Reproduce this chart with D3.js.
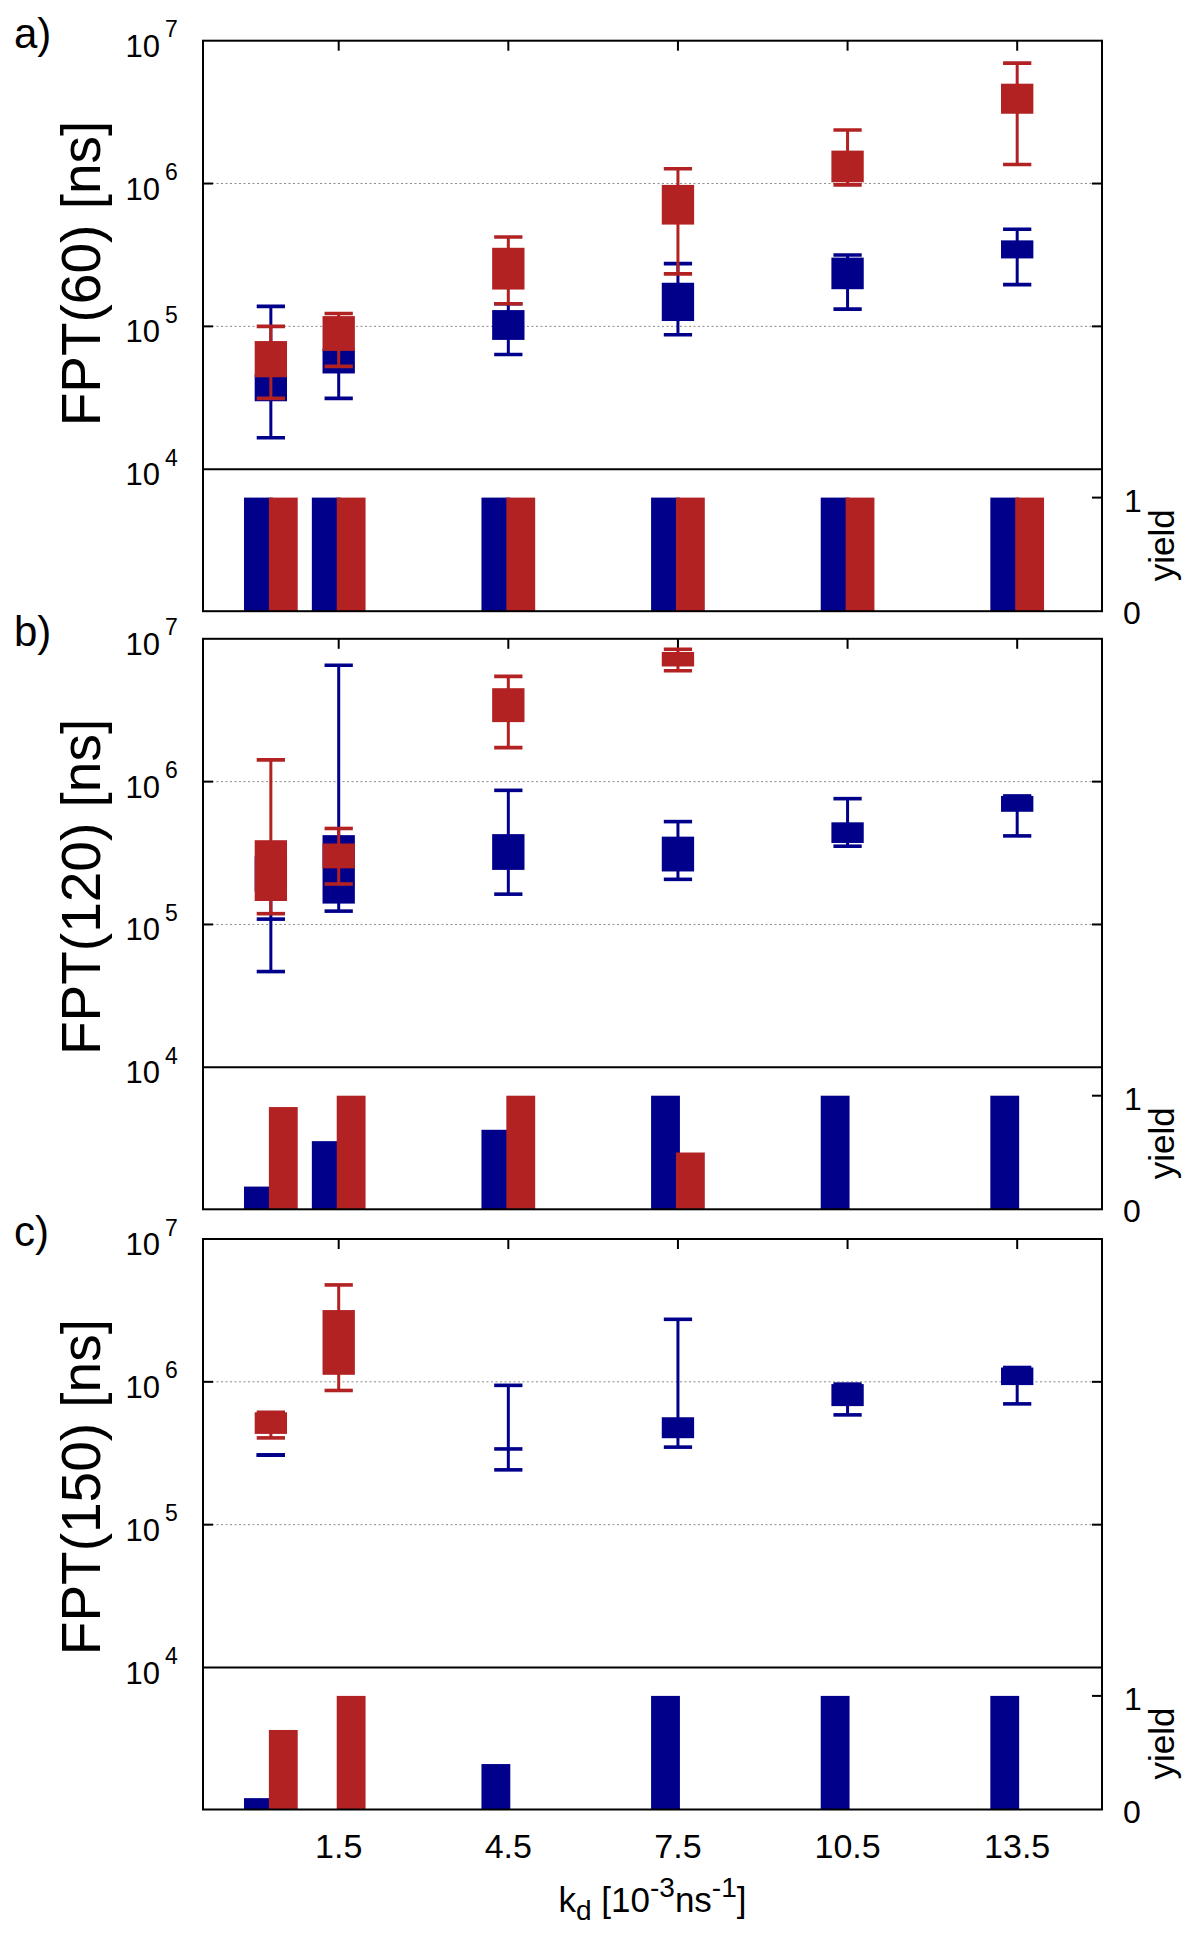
<!DOCTYPE html>
<html><head><meta charset="utf-8">
<script src="https://cdn.jsdelivr.net/npm/d3@7"></script>
<style>
body{margin:0;background:#fff}
svg{display:block}
text{font-family:"Liberation Sans",Arial,Helvetica,sans-serif;fill:#000}
</style>
</head><body>
<svg id="chart" width="1200" height="1937"></svg>
<script>
// ---------------- DATA ----------------
const kd = [0.3, 1.5, 4.5, 7.5, 10.5, 13.5];
const xTickValues = [1.5, 4.5, 7.5, 10.5, 13.5];
const xTickLabels = ["1.5", "4.5", "7.5", "10.5", "13.5"];
const yTickValues = [1e4, 1e5, 1e6, 1e7];
const yTickExponents = ["4", "5", "6", "7"];
const gridValues = [1e5, 1e6];
const panelLabels = ["a)", "b)", "c)"];
const yTitles = ["FPT(60) [ns]", "FPT(120) [ns]", "FPT(150) [ns]"];

// panel a (FPT 60)
const aBlueLo = [1.66e4, 3.13e4, 6.35e4, 8.73e4, 1.32e5, 1.96e5];
const aBlueQ1 = [2.99e4, 4.68e4, 8.04e4, 1.09e5, 1.82e5, 2.99e5];
const aBlueQ3 = [4.6e4, 7.0e4, 1.30e5, 2.02e5, 3.03e5, 4.0e5];
const aBlueHi = [1.38e5, 8.0e4, 1.44e5, 2.75e5, 3.16e5, 4.79e5];
const aRedLo = [3.13e4, 5.25e4, 1.44e5, 2.33e5, 9.78e5, 1.36e6];
const aRedQ1 = [4.4e4, 6.73e4, 1.81e5, 5.16e5, 1.02e6, 3.08e6];
const aRedQ3 = [7.89e4, 1.18e5, 3.55e5, 9.78e5, 1.70e6, 5.0e6];
const aRedHi = [1.0e5, 1.23e5, 4.22e5, 1.27e6, 2.37e6, 6.97e6];
const aBlueYield = [1, 1, 1, 1, 1, 1];
const aRedYield = [1, 1, 1, 1, 1, 1];

// panel b (FPT 120)
const bBlueLo = [4.68e4, 1.24e5, 1.63e5, 2.07e5, 3.53e5, 4.17e5];
const bBlueQ1 = [1.7e5, 1.40e5, 2.41e5, 2.35e5, 3.72e5, 6.15e5];
const bBlueQ3 = [3.0e5, 4.22e5, 4.29e5, 4.12e5, 5.19e5, 7.94e5];
const bBlueHi = [1.09e5, 6.53e6, 8.69e5, 5.25e5, 7.6e5, 7.94e5];
const bRedLo = [1.19e5, 1.92e5, 1.73e6, 5.98e6, null, null];
const bRedQ1 = [1.46e5, 2.47e5, 2.61e6, 6.4e6, null, null];
const bRedQ3 = [3.89e5, 3.69e5, 4.51e6, 8.09e6, null, null];
const bRedHi = [1.42e6, 4.70e5, 5.46e6, 8.44e6, null, null];
const bBlueYield = [0.2, 0.6, 0.7, 1, 1, 1];
const bRedYield = [0.9, 1, 1, 0.5, 0, 0];

// panel c (FPT 150)
const cBlueLo = [3.07e5, null, 2.42e5, 3.49e5, 5.87e5, 7.01e5];
const cBlueQ1 = [3.07e5, null, 3.39e5, 4.03e5, 6.76e5, 9.49e5];
const cBlueQ3 = [3.07e5, null, 3.39e5, 5.65e5, 9.64e5, 1.26e6];
const cBlueHi = [3.07e5, null, 9.45e5, 2.74e6, 9.64e5, 1.26e6];
const cRedLo = [4.05e5, 8.7e5, null, null, null, null];
const cRedQ1 = [4.32e5, 1.12e6, null, null, null, null];
const cRedQ3 = [6.12e5, 3.18e6, null, null, null, null];
const cRedHi = [6.12e5, 4.77e6, null, null, null, null];
const cBlueYield = [0.1, 0, 0.4, 1, 1, 1];
const cRedYield = [0.7, 1, 0, 0, 0, 0];

const BLUE = "#00008b";
const RED = "#b22222";

const panels = [
  {blue: [aBlueLo, aBlueQ1, aBlueQ3, aBlueHi], red: [aRedLo, aRedQ1, aRedQ3, aRedHi], by: aBlueYield, ry: aRedYield},
  {blue: [bBlueLo, bBlueQ1, bBlueQ3, bBlueHi], red: [bRedLo, bRedQ1, bRedQ3, bRedHi], by: bBlueYield, ry: bRedYield},
  {blue: [cBlueLo, cBlueQ1, cBlueQ3, cBlueHi], red: [cRedLo, cRedQ1, cRedQ3, cRedHi], by: cBlueYield, ry: cRedYield}
];

// ---------------- LAYOUT ----------------
const L = 203, R = 1102;
const tops = [40.7, 638.8, 1239];
const mainH = 428.5, yieldH = 142;

const svg = d3.select("#chart");
const x = d3.scaleLinear().domain([-0.9, 15]).range([L, R]);
const u = v => x(v) - x(0); // unit width in px

const boxW = 0.572, capW = 0.5, barW = 0.51, barOff = 0.22;

panels.forEach((p, pi) => {
  const top = tops[pi];
  const mid = top + mainH;
  const bot = mid + yieldH;
  const y = d3.scaleLog().domain([1e4, 1e7]).range([mid, top]);
  const yy = d3.scaleLinear().domain([0, 1.25]).range([bot, mid]);
  const g = svg.append("g");

  const clipId = "clip" + pi;
  svg.append("clipPath").attr("id", clipId).append("rect")
    .attr("x", L).attr("y", top).attr("width", R - L).attr("height", mainH);

  // grid
  g.selectAll(null).data(gridValues).join("line")
    .attr("x1", L).attr("x2", R).attr("y1", d => y(d)).attr("y2", d => y(d))
    .attr("stroke", "#8a8a8a").attr("stroke-width", 1).attr("stroke-dasharray", "2,2.5");

  // ticks
  const tk = g.append("g").attr("stroke", "#000").attr("stroke-width", 2);
  tk.selectAll(null).data(xTickValues).join("line")
    .attr("x1", d => x(d)).attr("x2", d => x(d)).attr("y1", top).attr("y2", top + 10);
  tk.selectAll(null).data(xTickValues).join("line")
    .attr("x1", d => x(d)).attr("x2", d => x(d)).attr("y1", bot).attr("y2", bot - 10);
  tk.selectAll(null).data(gridValues).join("line")
    .attr("x1", L).attr("x2", L + 10).attr("y1", d => y(d)).attr("y2", d => y(d));
  tk.selectAll(null).data(gridValues).join("line")
    .attr("x1", R).attr("x2", R - 10).attr("y1", d => y(d)).attr("y2", d => y(d));
  tk.append("line").attr("x1", R).attr("x2", R - 10).attr("y1", yy(1)).attr("y2", yy(1));

  // yield bars
  const bd = kd.map((k, i) => ({k, b: p.by[i], r: p.ry[i]}));
  g.selectAll(null).data(bd.filter(d => d.b > 0)).join("rect")
    .attr("x", d => x(d.k - barOff - barW / 2)).attr("width", u(barW))
    .attr("y", d => yy(d.b)).attr("height", d => yy(0) - yy(d.b)).attr("fill", BLUE);
  g.selectAll(null).data(bd.filter(d => d.r > 0)).join("rect")
    .attr("x", d => x(d.k + barOff - barW / 2)).attr("width", u(barW))
    .attr("y", d => yy(d.r)).attr("height", d => yy(0) - yy(d.r)).attr("fill", RED);

  // candlesticks
  const cg = g.append("g").attr("clip-path", `url(#${clipId})`);
  function series(arr, color) {
    const [lo, q1, q3, hi] = arr;
    const d = kd.map((k, i) => ({k, lo: lo[i], q1: q1[i], q3: q3[i], hi: hi[i]})).filter(d => d.lo != null);
    const s = cg.append("g");
    s.selectAll(null).data(d).join("line")
      .attr("x1", d => x(d.k)).attr("x2", d => x(d.k))
      .attr("y1", d => y(Math.min(d.lo, d.q1))).attr("y2", d => y(Math.max(d.hi, d.q3)))
      .attr("stroke", color).attr("stroke-width", 3);
    const caps = [];
    d.forEach(e => { caps.push({k: e.k, v: e.lo}); caps.push({k: e.k, v: e.hi}); if (e.q1 === e.q3) caps.push({k: e.k, v: e.q1}); });
    s.selectAll(null).data(caps).join("line")
      .attr("x1", c => x(c.k - capW / 2)).attr("x2", c => x(c.k + capW / 2))
      .attr("y1", c => y(c.v)).attr("y2", c => y(c.v))
      .attr("stroke", color).attr("stroke-width", 3.6);
    s.selectAll(null).data(d.filter(e => e.q3 > e.q1)).join("rect")
      .attr("x", e => x(e.k - boxW / 2)).attr("width", u(boxW))
      .attr("y", e => y(e.q3)).attr("height", e => y(e.q1) - y(e.q3))
      .attr("fill", color);
  }
  series(p.blue, BLUE);
  series(p.red, RED);

  // frame
  const fr = g.append("g").attr("stroke", "#000").attr("stroke-width", 2).attr("fill", "none");
  fr.append("rect").attr("x", L).attr("y", top).attr("width", R - L).attr("height", bot - top);
  fr.append("line").attr("x1", L).attr("x2", R).attr("y1", mid).attr("y2", mid);

  // y tick labels
  const yl = g.append("g");
  yl.selectAll(null).data(yTickValues).join("text")
    .attr("x", 160).attr("y", d => y(d) + 16).attr("text-anchor", "end")
    .attr("font-size", 31).text("10");
  yl.selectAll(null).data(yTickValues).join("text")
    .attr("x", 165).attr("y", d => y(d) - 3.4).attr("text-anchor", "start")
    .attr("font-size", 23).text((d, i) => yTickExponents[i]);

  // yield labels
  g.append("text").attr("x", 1124).attr("y", yy(1) + 14).attr("font-size", 32).text("1");
  g.append("text").attr("x", 1123).attr("y", yy(0) + 13).attr("font-size", 32).text("0");
  g.append("text").attr("transform", `translate(1174,${mid + yieldH / 2 + 5}) rotate(-90)`)
    .attr("text-anchor", "middle").attr("font-size", 35).text("yield");

  // y title
  g.append("text").attr("transform", `translate(99.5,${top + 80}) rotate(-90)`)
    .attr("text-anchor", "end").attr("font-size", 55).text(yTitles[pi]);

  // panel label
  g.append("text").attr("x", 14).attr("y", top + 7).attr("font-size", 42).text(panelLabels[pi]);

  if (pi === 2) {
    g.selectAll(null).data(xTickValues).join("text")
      .attr("x", d => x(d)).attr("y", bot + 48).attr("text-anchor", "middle")
      .attr("font-size", 34).text((d, i) => xTickLabels[i]);
    const t = g.append("text").attr("x", (L + R) / 2).attr("y", 1911.7)
      .attr("text-anchor", "middle").attr("font-size", 35);
    t.append("tspan").text("k");
    t.append("tspan").attr("font-size", 28).attr("dy", 8).text("d");
    t.append("tspan").attr("dy", -8).text(" [10");
    t.append("tspan").attr("font-size", 28).attr("dy", -15).text("-3");
    t.append("tspan").attr("dy", 15).text("ns");
    t.append("tspan").attr("font-size", 28).attr("dy", -15).text("-1");
    t.append("tspan").attr("dy", 15).text("]");
  }
});
</script>
</body></html>
